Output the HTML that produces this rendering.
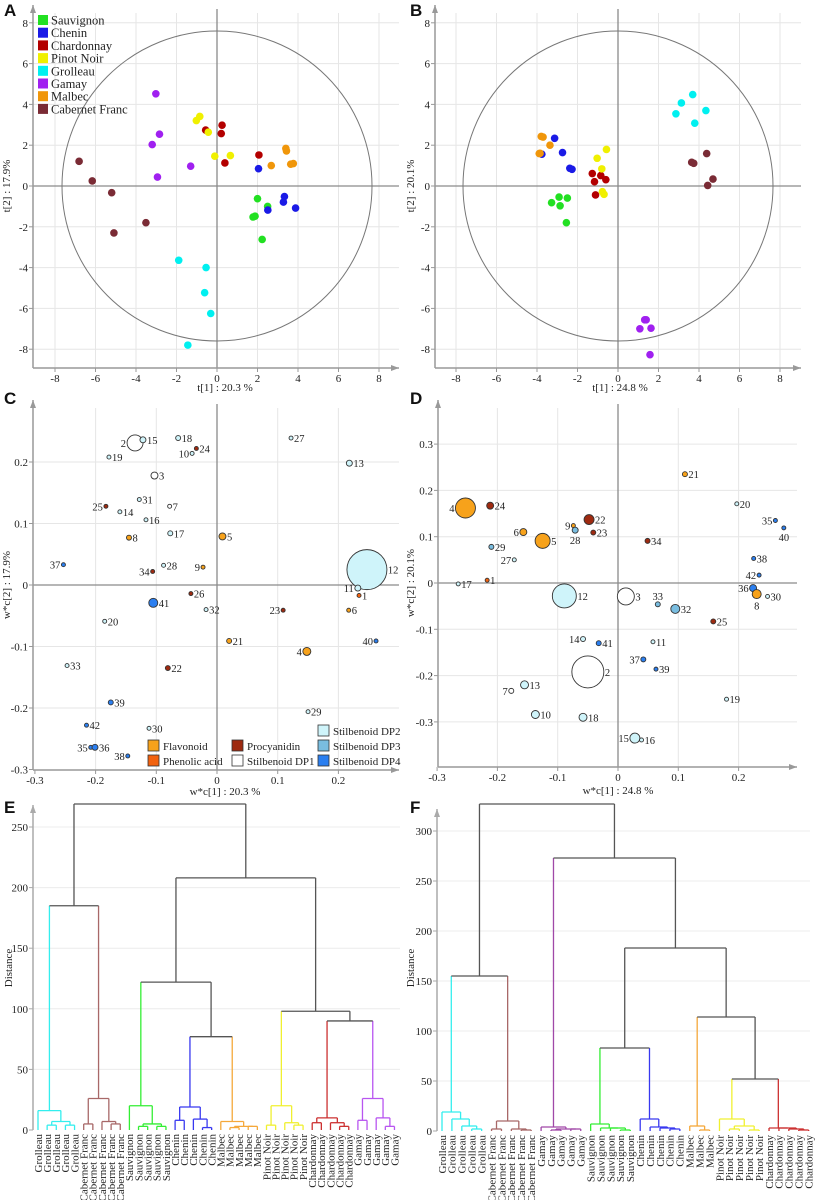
<!DOCTYPE html>
<html><head><meta charset="utf-8">
<style>
body{margin:0;background:#fff;}
svg{display:block;font-family:"Liberation Serif",serif;}
.tk{font-size:11px;fill:#222;}
.lg{font-size:12.5px;fill:#222;}
.pl{font-family:"Liberation Sans",sans-serif;font-weight:bold;font-size:17px;fill:#111;}
.lb{font-size:10.5px;fill:#222;}
.lf{font-size:11px;fill:#222;}
</style></head>
<body>
<svg id="fig" width="818" height="1200" viewBox="0 0 818 1200"></svg>
<script>
// ---------- data ----------
const wineVarieties = ['Sauvignon','Chenin','Chardonnay','Pinot Noir','Grolleau','Gamay','Malbec','Cabernet Franc'];
const wineColors = ['#22e022','#1a1ae6','#b30000','#f0f000','#00f0f0','#a020f0','#f0960a','#7a2b35'];
const scoresA = [
 [[2.0,-0.62],[2.5,-1.0],[1.78,-1.52],[1.88,-1.48],[2.23,-2.62]],
 [[2.05,0.85],[3.33,-0.52],[3.28,-0.79],[3.88,-1.08],[2.51,-1.18]],
 [[0.25,2.98],[0.21,2.57],[-0.56,2.74],[0.39,1.13],[2.07,1.52]],
 [[-1.02,3.21],[-0.85,3.41],[-0.43,2.64],[-0.11,1.46],[0.66,1.49]],
 [[-1.89,-3.64],[-0.54,-4.0],[-0.61,-5.23],[-0.31,-6.25],[-1.44,-7.8]],
 [[-3.02,4.52],[-2.84,2.54],[-3.2,2.03],[-2.94,0.44],[-1.3,0.97]],
 [[3.4,1.84],[3.43,1.72],[2.68,1.0],[3.64,1.07],[3.77,1.1]],
 [[-6.81,1.21],[-6.16,0.25],[-5.2,-0.33],[-3.51,-1.8],[-5.09,-2.3]]
];
const scoresB = [
 [[-2.91,-0.54],[-2.5,-0.59],[-3.28,-0.82],[-2.86,-0.97],[-2.55,-1.8]],
 [[-3.13,2.34],[-2.74,1.64],[-3.76,1.56],[-2.38,0.87],[-2.27,0.82]],
 [[-1.27,0.61],[-0.85,0.51],[-0.6,0.31],[-1.16,0.21],[-1.11,-0.44]],
 [[-0.57,1.79],[-1.03,1.36],[-0.8,0.84],[-0.77,-0.28],[-0.69,-0.41]],
 [[3.69,4.48],[3.13,4.07],[4.34,3.7],[2.86,3.54],[3.79,3.08]],
 [[1.39,-6.56],[1.32,-6.56],[1.08,-7.0],[1.63,-6.97],[1.58,-8.27]],
 [[-3.79,2.43],[-3.36,2.0],[-3.89,1.59],[-3.85,1.6],[-3.7,2.4]],
 [[4.38,1.59],[3.64,1.16],[3.74,1.11],[4.69,0.34],[4.43,0.03]]
];
const compoundClasses = ['Flavonoid','Phenolic acid','Procyanidin','Stilbenoid DP1','Stilbenoid DP2','Stilbenoid DP3','Stilbenoid DP4'];
const classColors = ['#f7a21b','#f2620f','#9e2a10','#ffffff','#cff4fa','#79bde0','#2b7ff0'];
const loadC_id   = [2,15,18,24,10,27,13,19,3,31,25,14,7,16,17,8,5,37,28,34,9,12,11,1,26,41,32,23,6,20,21,4,40,33,22,39,29,42,30,35,36,38];
const loadC_x    = [-0.135,-0.122,-0.064,-0.034,-0.041,0.122,0.218,-0.178,-0.103,-0.128,-0.183,-0.16,-0.078,-0.117,-0.077,-0.145,0.009,-0.253,-0.088,-0.106,-0.023,0.247,0.232,0.234,-0.043,-0.105,-0.018,0.109,0.217,-0.185,0.02,0.148,0.262,-0.247,-0.081,-0.175,0.15,-0.215,-0.112,-0.208,-0.201,-0.147];
const loadC_y    = [0.231,0.236,0.239,0.222,0.214,0.239,0.198,0.208,0.178,0.139,0.128,0.119,0.128,0.106,0.084,0.077,0.079,0.033,0.032,0.022,0.029,0.025,-0.005,-0.017,-0.014,-0.029,-0.04,-0.041,-0.041,-0.059,-0.091,-0.108,-0.091,-0.131,-0.135,-0.191,-0.206,-0.228,-0.233,-0.264,-0.264,-0.278];
const loadC_size = [8,3,2.5,2,2,2,3,2,3.5,2,2,2,2,2,2.5,2.5,3.5,2,2,2,2,20,3,2,2,4.5,2,2,2,2,2.5,4,2,2,2.5,2.5,2,2,2,2,3,2];
const loadC_cls  = [3,4,4,2,4,4,4,4,3,4,2,4,3,4,4,0,0,6,4,2,0,4,4,1,2,6,4,2,0,4,0,0,6,4,2,6,4,6,4,6,6,6];
const loadC_side = ['l','r','r','r','l','r','r','r','r','r','l','r','r','r','r','r','r','l','r','l','l','r','l','r','r','r','r','l','r','r','r','l','l','r','r','r','r','r','r','l','r','l'];
const loadD_id   = [4,24,22,9,28,23,6,5,34,29,27,21,20,35,40,38,42,36,8,30,17,1,12,3,33,32,25,14,41,11,37,39,2,13,7,19,10,18,15,16];
const loadD_x    = [-0.253,-0.212,-0.048,-0.074,-0.071,-0.041,-0.157,-0.125,0.049,-0.21,-0.172,0.111,0.197,0.261,0.275,0.225,0.234,0.224,0.23,0.248,-0.265,-0.217,-0.089,0.013,0.066,0.095,0.158,-0.058,-0.032,0.058,0.042,0.063,-0.05,-0.155,-0.177,0.18,-0.137,-0.058,0.028,0.039];
const loadD_y    = [0.162,0.167,0.137,0.124,0.114,0.109,0.11,0.091,0.091,0.078,0.05,0.235,0.171,0.135,0.119,0.053,0.017,-0.011,-0.024,-0.029,-0.002,0.006,-0.028,-0.029,-0.046,-0.056,-0.083,-0.121,-0.13,-0.127,-0.165,-0.186,-0.192,-0.22,-0.233,-0.251,-0.284,-0.29,-0.335,-0.339];
const loadD_size = [10,3.5,5,2,3,2.5,3.5,7.5,2.5,2.5,2,2.5,2,2,2,2,2,3.5,4.5,2,2,2,12,8.5,2.5,4.5,2.5,2.5,2.5,2,2.5,2,16,4,2.5,2,4,4,5,2];
const loadD_cls  = [0,2,2,0,5,2,0,0,2,5,4,0,4,6,6,6,6,6,0,4,4,1,4,3,5,5,2,4,6,4,6,6,3,4,3,4,4,4,4,4];
const loadD_side = ['l','r','r','l','b','r','l','r','r','r','l','r','r','l','b','r','l','l','b','r','r','r','r','r','t','r','r','l','r','r','l','r','r','r','l','r','r','r','l','r'];
const leavesE = ['Grolleau','Grolleau','Grolleau','Grolleau','Grolleau','Cabernet Franc','Cabernet Franc','Cabernet Franc','Cabernet Franc','Cabernet Franc','Sauvignon','Sauvignon','Sauvignon','Sauvignon','Sauvignon','Chenin','Chenin','Chenin','Chenin','Chenin','Malbec','Malbec','Malbec','Malbec','Malbec','Pinot Noir','Pinot Noir','Pinot Noir','Pinot Noir','Pinot Noir','Chardonnay','Chardonnay','Chardonnay','Chardonnay','Chardonnay','Gamay','Gamay','Gamay','Gamay','Gamay'];
const treeE = [269,'k',[185,'k',[16,'cy',0,[7,'cy',[4,'cy',1,2],[4,'cy',3,4]]],[26,'cf',[5,'cf',5,6],[7,'cf',7,[5,'cf',8,9]]]],
 [208,'k',[122,'k',[20,'gr',10,[5,'gr',[3,'gr',11,12],[3,'gr',13,14]]],[77,'k',[19,'bl',[8,'bl',15,16],[9,'bl',17,[2,'bl',18,19]]],[7,'or',20,[3,'or',[2,'or',21,22],[3,'or',23,24]]]]],
  [98,'k',[20,'ye',[4,'ye',25,26],[6,'ye',27,[4,'ye',28,29]]],[90,'k',[10,'rd',[6,'rd',30,31],[6,'rd',32,[3,'rd',33,34]]],[26,'pu',[8,'pu',35,36],[10,'pu',37,[3,'pu',38,39]]]]]]];
const leavesF = ['Grolleau','Grolleau','Grolleau','Grolleau','Grolleau','Cabernet Franc','Cabernet Franc','Cabernet Franc','Cabernet Franc','Cabernet Franc','Gamay','Gamay','Gamay','Gamay','Gamay','Sauvignon','Sauvignon','Sauvignon','Sauvignon','Sauvignon','Chenin','Chenin','Chenin','Chenin','Chenin','Malbec','Malbec','Malbec','Pinot Noir','Pinot Noir','Pinot Noir','Pinot Noir','Pinot Noir','Chardonnay','Chardonnay','Chardonnay','Chardonnay','Chardonnay'];
const treeF = [327,'k',[155,'k',[19,'cy',0,[12,'cy',1,[5,'cy',2,[2,'cy',3,4]]]],[10,'cf',[2,'cf',5,6],[2,'cf',7,[1,'cf',8,9]]]],
 [273,'k',[4,'pm',10,[2,'pm',[1,'pm',11,12],[2,'pm',13,14]]],[183,'k',[83,'k',[7,'gr',15,[3,'gr',16,[3,'gr',17,[1,'gr',18,19]]]],[12,'bl',20,[4,'bl',21,[3,'bl',22,[2,'bl',23,24]]]]],
  [114,'k',[5,'or',25,[1,'or',26,27]],[52,'k',[12,'ye',28,[5,'ye',[2,'ye',29,30],[1,'ye',31,32]]],[3,'rd',33,[3,'rd',34,[2,'rd',35,[1,'rd',36,37]]]]]]]]];
const dendroColors = {k:'#555555',cy:'#33eeee',cf:'#a86868',gr:'#33ee33',bl:'#3838f0',or:'#f5a83a',ye:'#f0f030',rd:'#cc3030',pu:'#b855f0',pm:'#a048a8'};
const ticksAB = [-8,-6,-4,-2,0,2,4,6,8];
const ticksCx = [-0.3,-0.2,-0.1,0,0.1,0.2];
const ticksCy = [-0.3,-0.2,-0.1,0,0.1,0.2];
const ticksDy = [-0.4,-0.3,-0.2,-0.1,0,0.1,0.2,0.3];
const ticksE = [0,50,100,150,200,250];
const ticksF = [0,50,100,150,200,250,300];

const svg = document.getElementById('fig');
const NS = 'http://www.w3.org/2000/svg';
function mk(tag, attrs, parent){const e=document.createElementNS(NS,tag);for(const k in attrs)e.setAttribute(k,attrs[k]);(parent||svg).appendChild(e);return e;}
function txt(x,y,s,cls,anchor,parent){const t=mk('text',{x:x,y:y,class:cls,'text-anchor':anchor||'start'},parent);t.textContent=s;return t;}
function fmt(v){return v===0?'0':String(v);}

function frame(g,L,R,T,B,xt,yt,sx,sy,zx,zy,xlabels){
  xt.forEach(v=>{const x=sx(v);if(x>L+2&&x<R){const l=mk('line',{x1:x,x2:x,y1:T+8,y2:B,stroke:'#e6e6e6','stroke-width':1},g);}});
  yt.forEach(v=>{const y=sy(v);if(y<B-2&&y>T){const l=mk('line',{x1:L,x2:R,y1:y,y2:y,stroke:'#e6e6e6','stroke-width':1},g);}});
  if(zx){const l=mk('line',{x1:sx(0),x2:sx(0),y1:T+4,y2:B,stroke:'#8a8a8a','stroke-width':1.3},g);}
  if(zy){const l=mk('line',{x1:L,x2:R,y1:sy(0),y2:sy(0),stroke:'#8a8a8a','stroke-width':1.3},g);}
  const ya=mk('line',{x1:L,x2:L,y1:T,y2:B,stroke:'#999','stroke-width':1.5},g);
  
  mk('path',{d:`M${L-3},${T+8} L${L},${T} L${L+3},${T+8}Z`,fill:'#999'},g);
  yt.forEach(v=>{const y=sy(v);if(y<=B+1&&y>T){mk('line',{x1:L-4,x2:L,y1:y,y2:y,stroke:'#999'},g);const t=txt(L-5,y+4,fmt(v),'tk','end',g);}});
  if(xlabels){
    const xa=mk('line',{x1:L,x2:R,y1:B,y2:B,stroke:'#999','stroke-width':1.5},g);
    
    mk('path',{d:`M${R-8},${B-3} L${R},${B} L${R-8},${B+3}Z`,fill:'#999'},g);
    xt.forEach(v=>{const x=sx(v);mk('line',{x1:x,x2:x,y1:B,y2:B+4,stroke:'#999'},g);const t=txt(x,B+14,fmt(v),'tk','middle',g);});
  }
}
function ytitle(x,y,s,g){const t=txt(0,0,s,'tk','middle',g);t.setAttribute('transform',`translate(${x},${y}) rotate(-90)`);}
function xtitle(x,y,s,g){const t=txt(x,y,s,'tk','middle',g);}
function letter(x,y,s){const t=txt(x,y,s,'pl','start');}

function scorePanel(name,cx0,L,R,data,xt){
  const g=mk('g',{});
  
  const sx=v=>cx0+v*20.25, sy=v=>186-v*20.4;
  frame(g,L,R,5,368,xt,xt,sx,sy,true,true,true);
  const c=mk('circle',{cx:sx(0),cy:sy(0),r:155,fill:'none',stroke:'#777','stroke-width':1},g);
  
  data.forEach((grp,i)=>grp.forEach(p=>{
    const d=mk('circle',{cx:sx(p[0]),cy:sy(p[1]),r:3.8,fill:wineColors[i]},g);
    
    
  }));
  return g;
}
const gA=scorePanel('score-plot-a',217,33,399,scoresA,ticksAB);
ytitle(10,186,'t[2] : 17.9%',gA); xtitle(225,391,'t[1] : 20.3 %',gA);
const gB=scorePanel('score-plot-b',618,435,801,scoresB,ticksAB);
ytitle(414,186,'t[2] : 20.1%',gB); xtitle(620,391,'t[1] : 24.8 %',gB);
letter(4,16,'A'); letter(410,16,'B');
const legA=mk('g',{});

wineVarieties.forEach((n,i)=>{
  const y=20+i*12.7;
  const r=mk('rect',{x:38,y:y-5,width:10,height:10,fill:wineColors[i]},legA);
  
  const t=txt(51,y+4.5,n,'lg','start',legA);
  
});

function loadPanel(name,sx,sy,L,R,T,B,xt,yt,ids,xs,ys,sz,cl,side){
  const g=mk('g',{});
  
  frame(g,L,R,T,B,xt,yt,sx,sy,true,true,true);
  ids.forEach((id,i)=>{
    const x=sx(xs[i]),y=sy(ys[i]),r=sz[i];
    const c=mk('circle',{cx:x,cy:y,r:r,fill:classColors[cl[i]],stroke:'#333','stroke-width':0.9},g);
    
    
    let tx=x+r+1,ty=y+4,an='start';
    if(side[i]==='l'){tx=x-r-1;an='end';}
    else if(side[i]==='b'){tx=x;ty=y+r+11;an='middle';}
    else if(side[i]==='t'){tx=x;ty=y-r-2;an='middle';}
    const t=txt(tx,ty,String(id),'lb',an,g);
    
    
  });
  return g;
}
const sxC=v=>217+v*607, syC=v=>585-v*615;
const gC=loadPanel('loading-plot-c',sxC,syC,33,399,400,770,ticksCx,ticksCy,loadC_id,loadC_x,loadC_y,loadC_size,loadC_cls,loadC_side);
ytitle(10,585,'w*c[2] : 17.9%',gC); xtitle(225,795,'w*c[1] : 20.3 %',gC);
const sxD=v=>618+v*603, syD=v=>583-v*463;
const gD=loadPanel('loading-plot-d',sxD,syD,438,797,400,767,ticksCx,ticksDy,loadD_id,loadD_x,loadD_y,loadD_size,loadD_cls,loadD_side);
ytitle(414,583,'w*c[2] : 20.1%',gD); xtitle(618,794,'w*c[1] : 24.8 %',gD);
letter(4,404,'C'); letter(410,404,'D');
const legC=mk('g',{});

const legPos=[[148,746],[148,761],[232,746],[232,761],[318,731],[318,746],[318,761]];
compoundClasses.forEach((n,i)=>{
  const p=legPos[i];
  const r=mk('rect',{x:p[0],y:p[1]-6,width:11,height:11,fill:classColors[i],stroke:'#333','stroke-width':0.8},legC);
  
  const t=txt(p[0]+15,p[1]+4,n,'tk','start',legC);
  
});

function dendro(name,tree,leaves,L,R,x0,dx,sy,yt){
  const g=mk('g',{});
  
  yt.forEach(v=>{if(v>0){const l=mk('line',{x1:L,x2:R,y1:sy(v),y2:sy(v),stroke:'#ececec'},g);}});
  const T=sy(yt[yt.length-1])-22;
  const ya=mk('line',{x1:L,x2:L,y1:T,y2:sy(0),stroke:'#aaa','stroke-width':1.5},g);
  
  mk('path',{d:`M${L-3},${T+8} L${L},${T} L${L+3},${T+8}Z`,fill:'#aaa'},g);
  yt.forEach(v=>{mk('line',{x1:L-4,x2:L,y1:sy(v),y2:sy(v),stroke:'#aaa'},g);const t=txt(L-5,sy(v)+4,fmt(v),'tk','end',g);});
  function draw(n){
    if(typeof n==='number') return {x:x0+n*dx,h:0,leaf:true};
    const a=draw(n[2]),b=draw(n[3]);
    const col=dendroColors[n[1]];
    [a,b].forEach(c=>{
      const vc=c.leaf?col:c.col;
      const v=mk('line',{x1:c.x,x2:c.x,y1:sy(c.h),y2:sy(n[0]),stroke:vc,'stroke-width':1.3},g);
      
    });
    const h=mk('line',{x1:a.x,x2:b.x,y1:sy(n[0]),y2:sy(n[0]),stroke:col,'stroke-width':1.3},g);
    
    return {x:(a.x+b.x)/2,h:n[0],col:col};
  }
  draw(tree);
  leaves.forEach((s,i)=>{
    const x=x0+i*dx;
    const t=txt(0,0,s,'lf','end',g);
    t.setAttribute('transform',`translate(${x+3.8},${sy(0)+4}) rotate(-90)`);
    
    
  });
  return g;
}
const gE=dendro('dendrogram-e',treeE,leavesE,33,400,38,9.14,v=>1130-v*1.212,ticksE);
ytitle(12,968,'Distance',gE);
const gF=dendro('dendrogram-f',treeF,leavesF,437,810,442,9.91,v=>1131-v*1.0,ticksF);
ytitle(414,968,'Distance',gF);
letter(4,813,'E'); letter(410,813,'F');
</script>
</body></html>
